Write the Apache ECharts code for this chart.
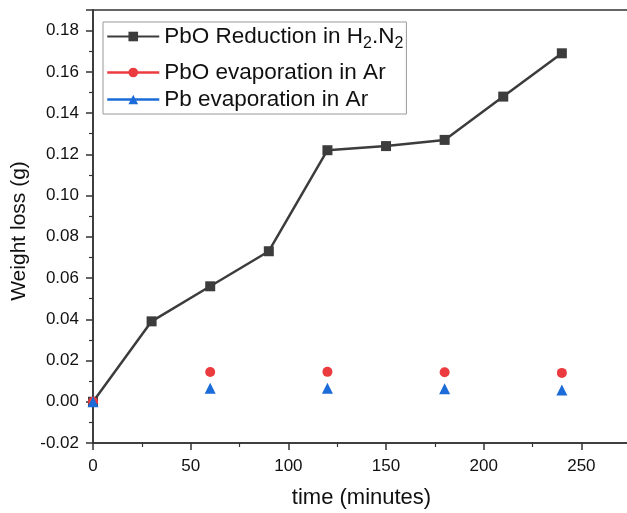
<!DOCTYPE html>
<html>
<head>
<meta charset="utf-8">
<script src="https://cdn.jsdelivr.net/npm/echarts@6/dist/echarts.min.js"></script>
<style>
  html, body { margin: 0; padding: 0; background: #fff; }
  #chart { width: 627px; height: 513px; }
</style>
</head>
<body>
<div id="chart"></div>
<script>
// time in minutes
var timeH2 = [0, 30, 60, 90, 120, 150, 180, 210, 240];
var lossH2 = [0, 0.039, 0.056, 0.073, 0.122, 0.124, 0.127, 0.148, 0.169];

var timeAr = [0, 60, 120, 180, 240];
var lossPbO = [0, 0.0144, 0.0145, 0.0143, 0.0140];
var lossPb = [0, 0.0066, 0.0065, 0.0063, 0.0057];

var seriesNames = ['PbO Reduction in H2.N2', 'PbO evaporation in Ar', 'Pb evaporation in Ar'];
var seriesColors = ['#3c3c3c', '#ec3b3f', '#1b6bd8'];

function pairs(xs, ys) {
  var out = [];
  for (var i = 0; i < xs.length; i++) {
    out.push([xs[i], ys[i]]);
  }
  return out;
}

var chart = echarts.init(document.getElementById('chart'));

var option = {
  backgroundColor: '#fff',
  animation: false,
  textStyle: { fontFamily: 'Liberation Sans, Arial, sans-serif' },
  grid: {
    left: 93,
    top: 10,
    right: -13,
    bottom: 70,
    outerBoundsMode: 'none',
    containLabel: false,
    show: true,
    borderColor: '#333',
    borderWidth: 1.5
  },
  legend: {
    left: 103,
    top: 22,
    orient: 'vertical',
    itemGap: 4,
    itemWidth: 52,
    itemHeight: 12,
    padding: [3, 3, 3, 3],
    borderColor: '#999',
    borderWidth: 1,
    borderRadius: 0,
    textStyle: {
      fontSize: 22.5,
      color: '#111',
      rich: {
        m: { fontSize: 22.5, lineHeight: 23, verticalAlign: 'top', color: '#111' },
        sub: { fontSize: 16, lineHeight: 16, verticalAlign: 'top', padding: [11, 0, 5, 0], color: '#111' }
      }
    },
    formatter: function (name) {
      if (name === seriesNames[0]) {
        return '{m|PbO Reduction in H}{sub|2}{m|.N}{sub|2}';
      }
      return name;
    },
    data: [
      { name: seriesNames[0] },
      { name: seriesNames[1], lineStyle: { width: 2.5, opacity: 1, color: seriesColors[1] } },
      { name: seriesNames[2], lineStyle: { width: 2.5, opacity: 1, color: seriesColors[2] } }
    ]
  },
  xAxis: {
    type: 'value',
    min: 0,
    max: 280,
    interval: 50,
    name: 'time (minutes)',
    nameLocation: 'middle',
    nameGap: 44,
    nameTextStyle: { fontSize: 22, color: '#111', padding: [0, 10, 0, 0] },
    axisLine: { show: true, onZero: false, lineStyle: { color: '#333', width: 1.5 } },
    axisTick: { show: true, inside: false, length: 7, lineStyle: { color: '#333', width: 1.5 } },
    minorTick: { show: true, splitNumber: 2, length: 4, lineStyle: { color: '#333', width: 1.2 } },
    splitLine: { show: false },
    axisLabel: { fontSize: 17, color: '#111', margin: 15, showMaxLabel: false }
  },
  yAxis: {
    type: 'value',
    min: -0.02,
    max: 0.19,
    interval: 0.02,
    name: 'Weight loss (g)',
    nameLocation: 'middle',
    nameGap: 60,
    nameRotate: 90,
    nameTextStyle: { fontSize: 21, color: '#111', padding: [0, 9, 0, 0] },
    axisLine: { show: true, onZero: false, lineStyle: { color: '#333', width: 1.5 } },
    axisTick: { show: true, inside: false, length: 7, lineStyle: { color: '#333', width: 1.5 } },
    minorTick: { show: true, splitNumber: 2, length: 4, lineStyle: { color: '#333', width: 1.2 } },
    splitLine: { show: false },
    axisLabel: {
      fontSize: 17,
      color: '#111',
      margin: 14,
      showMaxLabel: false,
      formatter: function (v) { return v.toFixed(2); }
    }
  },
  series: [
    {
      name: seriesNames[0],
      type: 'line',
      data: pairs(timeH2, lossH2),
      symbol: 'rect',
      symbolSize: 10,
      lineStyle: { color: seriesColors[0], width: 2.5 },
      itemStyle: { color: seriesColors[0] },
      z: 2
    },
    {
      name: seriesNames[1],
      type: 'line',
      data: pairs(timeAr, lossPbO),
      symbol: 'circle',
      symbolSize: 10,
      lineStyle: { color: seriesColors[1], width: 0, opacity: 0 },
      itemStyle: { color: seriesColors[1] },
      z: 3
    },
    {
      name: seriesNames[2],
      type: 'line',
      data: pairs(timeAr, lossPb),
      symbol: 'triangle',
      symbolSize: 11,
      lineStyle: { color: seriesColors[2], width: 0, opacity: 0 },
      itemStyle: { color: seriesColors[2] },
      z: 4
    }
  ]
};

chart.setOption(option);
</script>
</body>
</html>
